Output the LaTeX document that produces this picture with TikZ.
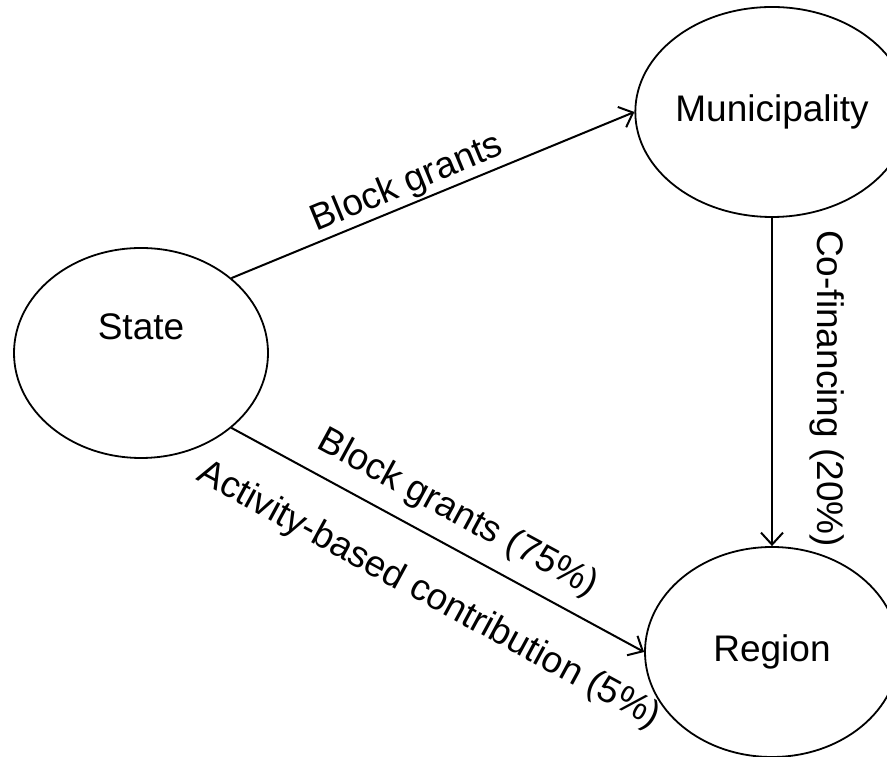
\documentclass[tikz,border=0pt]{standalone}
\usepackage{fontspec}
\setmainfont{Liberation Sans}
\usetikzlibrary{arrows.meta,shapes.geometric}

\tikzset{
  actor/.style={draw, ellipse, line width=1.8pt, minimum width=254pt, minimum height=210pt,
    inner sep=0pt, font=\fontsize{37pt}{44pt}\selectfont},
  flow/.style={line width=2pt, -{Straight Barb[length=12pt,width=22pt,line width=2pt]}},
  flowlbl/.style={sloped, inner sep=0pt, font=\fontsize{37pt}{44pt}\selectfont}
}

\begin{document}
\begin{tikzpicture}[x=1pt,y=1pt]
                \useasboundingbox (0,0) rectangle (887,757);
                \node[actor, label={[yshift=26pt, font=\fontsize{37pt}{44pt}\selectfont]center:State}] (state) at (141,404) {};
                \node[actor] (municipality) at (772,645) {Municipality};
                \node[actor] (region) at (772,105) {Region};

                \draw[flow] (state.north east) -- node[flowlbl, pos=0.455, above=2pt] {Block grants} (municipality.west);
                \draw[flow] (state.south east) -- node[flowlbl, pos=0.51, above=14pt] {Block grants (75\%)}
                    node[flowlbl, pos=0.54, below=35pt] {Activity-based contribution (5\%)} (region.west);
                \draw[flow] (municipality.south) -- node[flowlbl, pos=0.52, above=37pt] {Co-financing (20\%)} (region.north);
            \end{tikzpicture}
\end{document}
